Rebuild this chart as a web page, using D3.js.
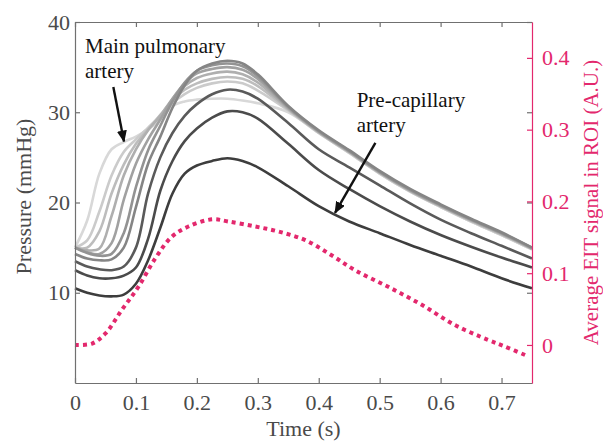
<!DOCTYPE html>
<html><head><meta charset="utf-8">
<script src="https://cdn.jsdelivr.net/npm/d3@7"></script>
<style>
body{margin:0;background:#fff}
text{font-family:"Liberation Serif","Times New Roman",serif}
</style>
</head><body>
<svg id="chart" width="603" height="443"></svg>
<script>
// ---------- data ----------
const time = [0, 0.02, 0.04, 0.06, 0.08, 0.10, 0.12, 0.14, 0.16, 0.18, 0.20, 0.225, 0.25, 0.275, 0.30, 0.35, 0.40, 0.45, 0.50, 0.55, 0.60, 0.65, 0.70, 0.75];

// pressure (mmHg) from main pulmonary artery (1) to pre-capillary artery (10)
const pressure1  = [15.0, 18.0, 23.2, 25.9, 26.7, 27.3, 28.1, 29.2, 30.7, 31.2, 31.4, 31.5, 31.5, 31.3, 31.0, 30.0, 27.7, 25.5, 23.2, 21.2, 19.5, 17.9, 16.4, 14.8];
const pressure2  = [15.0, 15.8, 19.0, 23.0, 25.6, 27.0, 28.3, 29.6, 31.0, 32.0, 32.7, 33.2, 33.4, 33.2, 32.4, 30.2, 27.7, 25.5, 23.2, 21.2, 19.5, 17.9, 16.4, 14.8];
const pressure3  = [15.0, 15.0, 16.8, 21.0, 24.2, 26.5, 28.1, 29.7, 31.3, 32.5, 33.2, 33.7, 33.9, 33.7, 32.9, 30.3, 27.8, 25.6, 23.3, 21.3, 19.6, 18.0, 16.5, 14.9];
const pressure4  = [15.0, 14.7, 14.9, 18.5, 23.0, 25.9, 28.0, 29.6, 31.5, 32.9, 33.8, 34.3, 34.5, 34.2, 33.3, 30.4, 27.8, 25.6, 23.3, 21.3, 19.6, 18.0, 16.5, 14.9];
const pressure5  = [15.0, 14.5, 14.3, 15.5, 20.3, 24.3, 27.0, 29.2, 31.5, 33.2, 34.3, 34.8, 35.0, 34.7, 33.7, 30.5, 27.9, 25.7, 23.4, 21.4, 19.7, 18.1, 16.6, 14.9];
const pressure6  = [15.0, 14.4, 14.1, 14.3, 16.6, 21.7, 25.8, 28.5, 31.2, 33.3, 34.6, 35.2, 35.4, 35.1, 34.0, 30.6, 27.9, 25.7, 23.4, 21.4, 19.7, 18.1, 16.6, 15.0];
const pressure7  = [14.3, 13.8, 13.6, 13.7, 15.0, 19.5, 24.3, 27.3, 30.5, 33.0, 34.6, 35.4, 35.7, 35.4, 34.2, 30.7, 28.0, 25.8, 23.5, 21.5, 19.8, 18.2, 16.7, 15.0];
const pressure8  = [13.5, 12.9, 12.6, 12.5, 12.9, 15.0, 21.0, 25.0, 27.7, 29.6, 30.9, 32.0, 32.5, 32.3, 31.5, 28.8, 25.9, 23.9, 21.9, 19.9, 18.1, 16.6, 15.2, 13.8];
const pressure9  = [12.5, 11.9, 11.6, 11.6, 11.9, 12.8, 16.0, 21.3, 24.6, 26.8, 28.2, 29.4, 30.1, 30.0, 29.3, 26.5, 23.6, 21.5, 19.6, 17.9, 16.4, 15.1, 13.9, 12.8];
const pressure10 = [10.5, 10.0, 9.7, 9.6, 9.8, 11.0, 13.6, 17.2, 21.0, 23.2, 24.1, 24.6, 24.9, 24.6, 23.9, 21.8, 19.6, 17.9, 16.6, 15.3, 14.1, 12.9, 11.6, 10.5];
const pressureSeries = [pressure1, pressure2, pressure3, pressure4, pressure5, pressure6, pressure7, pressure8, pressure9, pressure10];
const seriesColors = ["#d8d8d8", "#cbcbcb", "#bdbdbd", "#afafaf", "#a1a1a1", "#939393", "#858585", "#5a5a5a", "#4b4b4b", "#3d3d3d"];

// average EIT signal in ROI (A.U.)
const eitTime   = [0, 0.028, 0.05, 0.077, 0.104, 0.132, 0.159, 0.186, 0.225, 0.252, 0.296, 0.334, 0.378, 0.421, 0.46, 0.514, 0.569, 0.623, 0.678, 0.705, 0.744];
const eitSignal = [0.000, 0.002, 0.016, 0.049, 0.081, 0.121, 0.151, 0.165, 0.175, 0.172, 0.165, 0.158, 0.146, 0.125, 0.104, 0.081, 0.056, 0.028, 0.007, -0.002, -0.016];

const xTicks = [0, 0.1, 0.2, 0.3, 0.4, 0.5, 0.6, 0.7];
const xTickLabels = ["0", "0.1", "0.2", "0.3", "0.4", "0.5", "0.6", "0.7"];
const pressureTicks = [10, 20, 30, 40];
const eitTicks = [0, 0.1, 0.2, 0.3, 0.4];
const eitTickLabels = ["0", "0.1", "0.2", "0.3", "0.4"];

// ---------- layout ----------
const svg = d3.select("#chart");
const L = 75, R = 532, T = 22, B = 383;
const FONT = 22;
const AXIS = "#707070", TXT = "#4a4a4a", PINK = "#e3286d";

const x = d3.scaleLinear().domain([0, 0.75]).range([L, R]);
const yP = d3.scaleLinear().domain([0, 40]).range([B, T]);
const yE = d3.scaleLinear().domain([-0.053, 0.45]).range([B, T]);

// curves
const line = d3.line().x((d, i) => x(time[i])).y(d => yP(d)).curve(d3.curveCatmullRom.alpha(0.5));
pressureSeries.forEach((s, k) => {
  svg.append("path").attr("d", line(s)).attr("fill", "none")
    .attr("stroke", seriesColors[k]).attr("stroke-width", 2.6).attr("stroke-linejoin", "round");
});

const eitLine = d3.line().x((d, i) => x(eitTime[i])).y(d => yE(d)).curve(d3.curveCatmullRom.alpha(0.5));
svg.append("path").attr("d", eitLine(eitSignal)).attr("fill", "none")
  .attr("stroke", PINK).attr("stroke-width", 4).attr("stroke-dasharray", "4,4");

// axes
function style(g, col, tcol) {
  g.selectAll(".domain").attr("stroke", col).attr("stroke-width", 1.2);
  g.selectAll(".tick line").attr("stroke", col).attr("stroke-width", 1.2);
  g.selectAll(".tick text").attr("fill", tcol).attr("font-size", FONT)
    .attr("font-family", '"Liberation Serif","Times New Roman",serif');
}
const gx = svg.append("g").attr("transform", `translate(0,${B})`)
  .call(d3.axisBottom(x).tickValues(xTicks).tickFormat((d, i) => xTickLabels[i]).tickSize(-5).tickSizeOuter(0).tickPadding(11));
style(gx, AXIS, TXT);
const gt = svg.append("g").attr("transform", `translate(0,${T})`)
  .call(d3.axisTop(x).tickValues(xTicks).tickFormat("").tickSize(-5).tickSizeOuter(0));
style(gt, AXIS, TXT);
const gl = svg.append("g").attr("transform", `translate(${L},0)`)
  .call(d3.axisLeft(yP).tickValues(pressureTicks).tickSize(-5).tickSizeOuter(0).tickPadding(5));
style(gl, AXIS, TXT);
const gr2 = svg.append("g").attr("transform", `translate(${R},0)`)
  .call(d3.axisRight(yP).tickValues(pressureTicks).tickFormat("").tickSize(-5).tickSizeOuter(0));
style(gr2, AXIS, TXT);
gr2.select(".domain").remove();
const gr = svg.append("g").attr("transform", `translate(${R},0)`)
  .call(d3.axisRight(yE).tickValues(eitTicks).tickFormat((d, i) => eitTickLabels[i]).tickSize(-5).tickSizeOuter(0).tickPadding(10));
style(gr, PINK, PINK);

// axis titles
svg.append("text").attr("x", (L + R) / 2).attr("y", 436).attr("text-anchor", "middle")
  .attr("font-size", FONT).attr("fill", TXT).text("Time (s)");
svg.append("text").attr("transform", `translate(31,${(T + B) / 2 - 6}) rotate(-90)`).attr("text-anchor", "middle")
  .attr("font-size", FONT).attr("fill", TXT).text("Pressure (mmHg)");
svg.append("text").attr("transform", `translate(598,${(T + B) / 2}) rotate(-90)`).attr("text-anchor", "middle")
  .attr("font-size", 21).attr("fill", PINK).text("Average EIT signal in ROI (A.U.)");

// annotations
const defs = svg.append("defs");
defs.append("marker").attr("id", "ah").attr("viewBox", "0 0 12 10").attr("refX", 11).attr("refY", 5)
  .attr("markerWidth", 12).attr("markerHeight", 10).attr("markerUnits", "userSpaceOnUse").attr("orient", "auto")
  .append("path").attr("d", "M0,0 L12,5 L0,10 Z").attr("fill", "#111");

const notes = [
  {lines: ["Main pulmonary", "artery"], t: 0.0164, p: 36.6, from: [0.0629, 32.8], to: [0.0804, 26.75]},
  {lines: ["Pre-capillary", "artery"], t: 0.4623, p: 30.6, from: [0.493, 26.6], to: [0.4267, 18.85]}
];
notes.forEach(n => {
  n.lines.forEach((s, i) => {
    svg.append("text").attr("x", x(n.t)).attr("y", yP(n.p) + i * 25.5).attr("font-size", FONT - 1)
      .attr("fill", "#111").text(s);
  });
  svg.append("line").attr("x1", x(n.from[0])).attr("y1", yP(n.from[1]))
    .attr("x2", x(n.to[0])).attr("y2", yP(n.to[1])).attr("stroke", "#111").attr("stroke-width", 2.4)
    .attr("marker-end", "url(#ah)");
});
</script>
</body></html>
